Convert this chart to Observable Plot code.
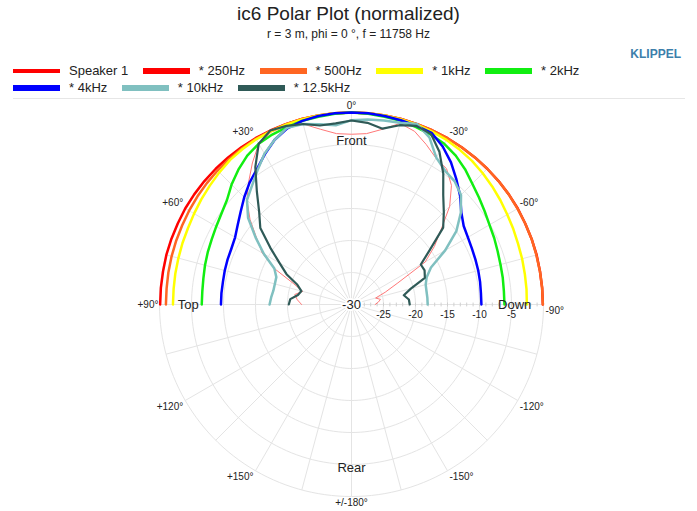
<!DOCTYPE html>
<html><head><meta charset="utf-8">
<script src="https://cdn.jsdelivr.net/npm/d3@7"></script>
<script src="https://cdn.jsdelivr.net/npm/@observablehq/plot@0.6"></script>
<style>
body{margin:0;background:#fff;font-family:"Liberation Sans",Arial,sans-serif;color:#222;}
#head{position:relative;height:99px;width:697px;}
#title{position:absolute;top:2px;left:0;width:697px;text-align:center;font-size:19px;line-height:24px;color:#222;}
#sub{position:absolute;top:26px;left:0;width:697px;text-align:center;font-size:12px;line-height:16px;color:#222;}
#brand{position:absolute;top:46px;right:16px;font-size:12px;line-height:16px;font-weight:bold;color:#3d7fab;}
#legend{position:absolute;top:62px;left:13px;font-size:13px;color:#222;}
.row{display:flex;gap:14.5px;height:17px;align-items:center;white-space:nowrap;}
.item{display:flex;align-items:center;gap:9px;}
.sw{width:47px;height:6px;}
#rule{position:absolute;top:98px;left:13px;width:672px;height:1px;background:#e6e6e6;}
#chart svg{display:block;}
</style></head>
<body>
<div id="head">
  <div id="title">ic6 Polar Plot (normalized)</div>
  <div id="sub">r = 3 m, phi = 0 °, f = 11758 Hz</div>
  <div id="brand">KLIPPEL</div>
  <div id="legend"></div>
  <div id="rule"></div>
</div>
<div id="chart"></div>
<script>
// angles in degrees (positive = left / "+" side, 0 = front)
const angles = [-90,-85,-80,-75,-70,-65,-60,-55,-50,-45,-40,-35,-30,-25,-20,-15,-10,-5,0,5,10,15,20,25,30,35,40,45,50,55,60,65,70,75,80,85,90];

const seriesNames  = ["Speaker 1","* 250Hz","* 500Hz","* 1kHz","* 2kHz","* 4kHz","* 10kHz","* 12.5kHz"];
const seriesColors = ["#ff7878","#ff0000","#ff6622","#ffff00","#11ee11","#0000ff","#80c0c0","#2f5a57"];
const legendColors = ["#ff0000","#ff0000","#ff6622","#ffff00","#11ee11","#0000ff","#80c0c0","#2f5a57"];
const seriesWidths = [1,2.5,2.5,2.5,2.5,2.5,2.5,2.2];

const speaker1 = [-26.3,-25.8,-25.4,-26.1,-24.4,-22.0,-16.7,-14.2,-11.7,-8.3,-5.7,-4.1,-3.6,-2.4,-1.2,-0.7,-2.2,-3.2,-3.4,-3.2,-2.2,-0.8,-0.3,-0.3,-1.0,-3.0,-5.0,-6.9,-9.3,-11.9,-13.9,-16.7,-20.3,-22.1,-21.0,-21.5,-22.2];
const f250   = [-0.1,-0.1,-0.1,-0.05,-0.05,-0.05,0,0,0,0,0,0,0,0,0,0,0,0,0,0,0,0,0,0,0,0,0,0,0,0,0,-0.05,-0.05,-0.05,-0.1,-0.1,-0.1];
const f500   = [-0.1,-0.1,-0.1,-0.1,-0.05,-0.05,-0.05,0,0,0,0,0,0,0,0,0,0,0,0,0,0,0,0,-0.05,-0.1,-0.2,-0.3,-0.4,-0.5,-0.6,-0.7,-0.8,-0.85,-0.9,-0.95,-1.0,-1.0];
const f1k    = [-2.6,-2.55,-2.5,-2.4,-2.3,-2.1,-1.9,-1.6,-1.3,-1.0,-0.7,-0.5,-0.3,-0.2,-0.1,-0.05,0,0,0,0,0,-0.05,-0.1,-0.15,-0.2,-0.35,-0.5,-0.8,-1.1,-1.35,-1.6,-1.8,-1.9,-2.0,-2.05,-2.1,-2.1];
const f2k    = [-6.1,-6.1,-6.0,-5.9,-5.7,-5.4,-5.1,-4.6,-4.0,-3.3,-2.4,-1.6,-1.0,-0.7,-0.5,-0.3,-0.2,-0.1,0,-0.1,-0.2,-0.3,-0.5,-0.7,-1.0,-1.6,-2.5,-3.5,-4.6,-5.2,-5.6,-5.9,-6.1,-6.3,-6.5,-6.6,-6.6];
const f4k    = [-9.7,-9.7,-9.6,-9.5,-9.4,-9.25,-9.0,-8.6,-7.6,-6.0,-4.5,-2.9,-1.5,-0.4,-0.3,-0.2,-0.1,0,0,0,-0.1,-0.3,-0.7,-1.6,-2.9,-4.2,-5.2,-6.3,-7.4,-8.3,-9.0,-9.3,-9.4,-9.5,-9.6,-9.6,-9.6];
const f10k   = [-18.1,-18.1,-18.1,-18.0,-17.5,-16.3,-13.1,-10.0,-7.7,-5.8,-4.9,-4.5,-3.5,-1.2,0,-0.6,-0.8,-1.0,-1.2,-1.9,-1.4,-0.8,-0.6,-1.6,-2.8,-4.4,-5.8,-6.9,-8.9,-11.7,-14.2,-16.7,-17.5,-17.6,-17.6,-17.4,-17.2];
const f12k5  = [-20.9,-21.0,-21.7,-20.4,-17.8,-17.4,-17.5,-15.0,-11.3,-9.6,-7.7,-5.0,-2.5,-0.6,-0.3,-1.0,-2.1,-1.5,-1.25,-1.6,-1.6,-0.8,-0.3,0,-1.0,-3.8,-7.0,-9.6,-11.4,-14.5,-17.0,-18.8,-21.0,-21.9,-21.5,-20.4,-20.2];
const seriesValues = [speaker1,f250,f500,f1k,f2k,f4k,f10k,f12k5];

const ringDb = [-25,-20,-15,-10,-5,0];
const spokeAngles = [0,15,30,45,60,75,90,105,120,135,150,165,180,195,210,225,240,255,270,285,300,315,330,345];
const angleTicks  = [0,30,60,90,120,150,180,-150,-120,-90,-60,-30];
const angleLabels = ["0°","+30°","+60°","+90°","+120°","+150°","+/-180°","-150°","-120°","-90°","-60°","-30°"];
const dirAngles = [0,90,-90,180];
const dirLabels = ["Front","Top","Down","Rear"];
const minorTickDb = [-29,-28,-27,-26,-25,-24,-23,-22,-21,-20,-19,-18,-17,-16,-15,-14,-13,-12,-11,-10,-9,-8,-7,-6,-5,-4,-3,-2,-1];

// legend
const lg = document.getElementById("legend");
[[0,1,2,3,4],[5,6,7]].forEach(idx => {
  const row = document.createElement("div"); row.className = "row";
  idx.forEach(i => {
    const it = document.createElement("div"); it.className = "item";
    const sw = document.createElement("div"); sw.className = "sw";
    sw.style.background = legendColors[i];
    if (i === 0) sw.style.height = "4px";
    const tx = document.createElement("span"); tx.textContent = seriesNames[i];
    it.appendChild(sw); it.appendChild(tx); row.appendChild(it);
  });
  lg.appendChild(row);
});

// polar helpers (radius in dB above -30)
const rOf = db => db + 30;
const px = (deg, db) => -rOf(db) * Math.sin(deg * Math.PI / 180);
const py = (deg, db) =>  rOf(db) * Math.cos(deg * Math.PI / 180);

const ringPts = [];
ringDb.forEach(db => { for (let a = 0; a <= 360; a += 2) ringPts.push({ring: db, x: px(a, db), y: py(a, db)}); });
const spokes = spokeAngles.map(a => ({x1: 0, y1: 0, x2: px(a, 0), y2: py(a, 0)}));
const ticks = minorTickDb.map(db => ({x: rOf(db), y1: -0.3, y2: 0.3}));

const curveMarks = seriesNames.map((name, i) => {
  const pts = angles.map((a, j) => ({x: px(a, seriesValues[i][j]), y: py(a, seriesValues[i][j])}));
  return Plot.line(pts, {x: "x", y: "y", stroke: seriesColors[i], strokeWidth: seriesWidths[i], curve: "linear", strokeLinejoin: "round"});
});

const angLab = angleTicks.map((a, i) => ({a, text: angleLabels[i], x: px(a, 0), y: py(a, 0)}));
const grp = f => angLab.filter(f);
const angStyle = {x: "x", y: "y", text: "text", fontSize: 10, fill: "#222"};

const ringLab = ringDb.filter(d => d < 0).map(d => ({x: rOf(d), y: 0, text: String(d)}));
const dirLab = dirAngles.map((a, i) => ({x: px(a, -4.5), y: py(a, -4.5), text: dirLabels[i]}));

const chart = Plot.plot({
  width: 697, height: 412,
  marginLeft: 159, marginRight: 154, marginTop: 13, marginBottom: 15,
  x: {domain: [-30, 30], axis: null},
  y: {domain: [-30, 30], axis: null},
  style: {fontFamily: '"Liberation Sans", Arial, sans-serif', background: "white"},
  marks: [
    Plot.line(ringPts, {x: "x", y: "y", z: "ring", stroke: "#e4e4e4", strokeWidth: 1}),
    Plot.link(spokes, {x1: "x1", y1: "y1", x2: "x2", y2: "y2", stroke: "#e4e4e4", strokeWidth: 1}),
    Plot.link(ticks, {x1: "x", x2: "x", y1: "y1", y2: "y2", stroke: "#d0d0d0", strokeWidth: 1}),
    ...curveMarks,
    Plot.text(grp(d => d.a === 0), {...angStyle, dy: -6.5}),
    Plot.text(grp(d => d.a === 180), {...angStyle, dy: 6}),
    Plot.text(grp(d => d.a === 30 || d.a === 60), {...angStyle, textAnchor: "end", dx: -2, dy: -6}),
    Plot.text(grp(d => d.a === 90), {...angStyle, textAnchor: "end", dx: -1, dy: 0}),
    Plot.text(grp(d => d.a === 120 || d.a === 150), {...angStyle, textAnchor: "end", dx: -2, dy: 6.5}),
    Plot.text(grp(d => d.a === -30 || d.a === -60), {...angStyle, textAnchor: "start", dx: 2, dy: -6}),
    Plot.text(grp(d => d.a === -90 || d.a === -120 || d.a === -150), {...angStyle, textAnchor: "start", dx: 2, dy: 6.5}),
    Plot.text(ringLab, {x: "x", y: "y", text: "text", fontSize: 10, fill: "#222", dy: 10}),
    Plot.text([{x: 0, y: 0, text: "-30"}], {x: "x", y: "y", text: "text", fontSize: 13, fill: "#222", stroke: "white", strokeWidth: 4, paintOrder: "stroke"}),
    Plot.text(dirLab, {x: "x", y: "y", text: "text", fontSize: 13, fill: "#222"})
  ]
});
document.getElementById("chart").appendChild(chart);
</script>
</body></html>
